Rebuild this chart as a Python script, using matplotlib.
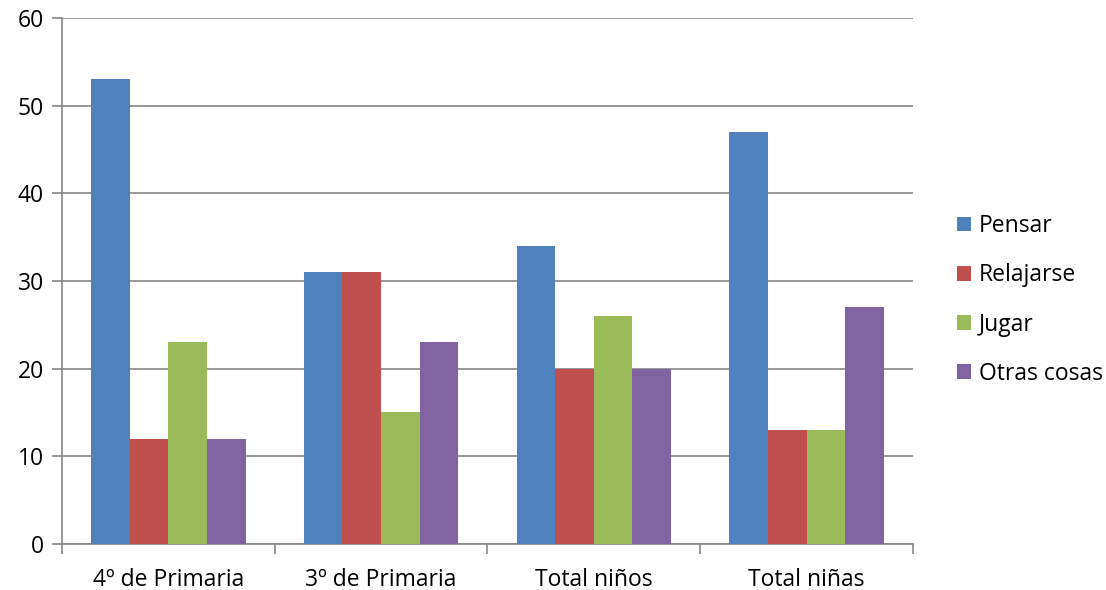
import matplotlib.pyplot as plt
import numpy as np

plt.rcParams['font.family'] = ['Open Sans', 'DejaVu Sans']

# datos por curso / grupo
categorias = ["4º de Primaria", "3º de Primaria", "Total niños", "Total niñas"]
series = ["Pensar", "Relajarse", "Jugar", "Otras cosas"]
pensar = [53, 31, 34, 47]
relajarse = [12, 31, 20, 13]
jugar = [23, 15, 26, 13]
otras = [12, 23, 20, 27]
colores = ["#4F81BD", "#C0504D", "#9BBB59", "#8064A2"]

valores = [pensar, relajarse, jugar, otras]

fig = plt.figure(figsize=(11.06, 5.9), dpi=100)
ax = fig.add_axes([0.056, 0.078, 0.7695, 0.8915])

x = np.arange(len(categorias))
ancho = 0.1815
for i, (nombre, vals, c) in enumerate(zip(series, valores, colores)):
    ax.bar(x + (i - 1.5) * ancho, vals, width=ancho, color=c, label=nombre,
           zorder=3, linewidth=0)

gris = "#868686"
fs = 16.5
ax.set_xlim(-0.5, len(categorias) - 0.5)
ax.set_ylim(0, 60)
ax.set_yticks(range(0, 61, 10))
ax.yaxis.grid(True, color=gris, linewidth=1.2, zorder=0)
ax.set_axisbelow(True)

# marcas del eje x entre categorías
ax.set_xticks(np.arange(-0.5, len(categorias), 1.0))
ax.set_xticklabels([])
ax.set_xticks(x, minor=True)
ax.set_xticklabels(categorias, minor=True)
ax.tick_params(axis='x', which='major', length=7, width=1.2, color=gris)
ax.tick_params(axis='x', which='minor', length=0, pad=17, labelsize=fs)
ax.tick_params(axis='y', length=7, width=1.2, color=gris, labelsize=fs, pad=6)

for lado in ['top', 'right']:
    ax.spines[lado].set_visible(False)
for lado in ['left', 'bottom']:
    ax.spines[lado].set_color(gris)
    ax.spines[lado].set_linewidth(1.2)

ax.legend(loc='center left', bbox_to_anchor=(0.855, 0.4915),
          bbox_transform=fig.transFigure, frameon=False, fontsize=fs,
          handlelength=0.6, handleheight=0.6, handletextpad=0.35,
          labelspacing=1.1, borderpad=0)

fig.savefig("out.png", dpi=100)
